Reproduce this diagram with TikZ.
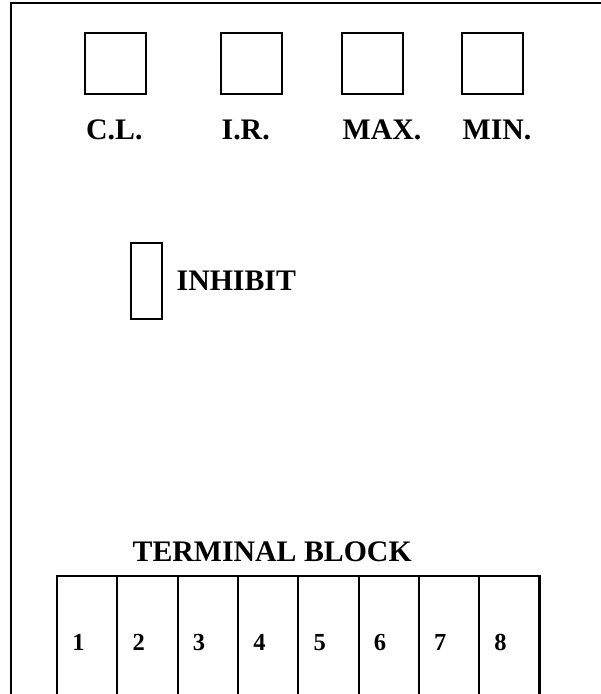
\documentclass[tikz,border=0pt]{standalone}
\usepackage{fontspec}
\setmainfont{Liberation Serif}
\begin{document}
\begin{tikzpicture}[x=1pt,y=-1pt,
  lamp/.style={draw,line width=1.9pt,minimum width=61pt,minimum height=61pt,inner sep=0pt},
  inhibitbox/.style={draw,line width=1.9pt,minimum width=31pt,minimum height=76pt,inner sep=0pt},
  cell/.style={draw,line width=2.1pt,minimum width=60.3pt,minimum height=145pt,inner sep=0pt,anchor=north west},
  lbl/.style={inner sep=0pt,anchor=base west,font=\bfseries\fontsize{29.8}{32}\selectfont},
  num/.style={inner sep=0pt,anchor=base,font=\bfseries\fontsize{24.5}{26}\selectfont}]
\useasboundingbox (0,0) rectangle (601,694);
\clip (0,0) rectangle (601,694);
\draw[line width=2.3pt] (11,3) rectangle (640,740);
% indicator squares
\node[lamp] (cl) at (115.5,63.5) {};
\node[lamp] (ir) at (251.5,63.5) {};
\node[lamp] (max) at (372.5,63.5) {};
\node[lamp] (min) at (492.5,63.5) {};
\node[lbl] (tcl) at (86,139) {C.L.};
\node[lbl] (tir) at (221.5,139) {I.R.};
\node[lbl] (tmax) at (342.5,139) {MAX.};
\node[lbl] (tmin) at (462.5,139) {MIN.};
% inhibit
\node[inhibitbox] (inh) at (146.2,281) {};
\node[lbl] (tinh) at (176.5,290) {INHIBIT};
% terminal block
\node[lbl] (ttb) at (132.5,561.5) {TERMINAL BLOCK};
\foreach \i in {1,...,8}{
  \pgfmathsetmacro{\xl}{56+(\i-1)*60.3}
  \node[cell] (c\i) at (\xl,575) {};
  \node[num] (n\i) at (\xl+22.5,650) {\i};
}
\end{tikzpicture}
\end{document}
